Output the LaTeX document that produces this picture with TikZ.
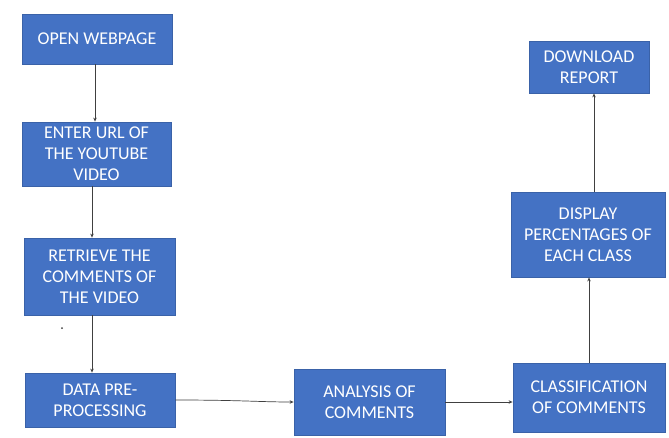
\documentclass[tikz,border=0pt]{standalone}
\usepackage{fontspec}
\setmainfont{Carlito}
\usetikzlibrary{arrows.meta}
\definecolor{boxblue}{HTML}{4472C4}
\definecolor{boxedge}{HTML}{3A62A8}
\definecolor{linegray}{HTML}{404040}
\begin{document}
\begin{tikzpicture}[x=1pt,y=-1pt,
  stepbox/.style={draw=boxedge,line width=0.8pt,fill=boxblue,text=white,
    align=center,inner sep=1pt,font=\fontsize{18}{21}\selectfont},
  conn/.style={draw=linegray,line width=0.7pt,-{Stealth[length=4pt,width=3.5pt]}}]
\useasboundingbox[fill=white] (0,0) rectangle (669,437);
\node[stepbox,minimum width=150pt,minimum height=50pt] (open) at (97,39) {OPEN WEBPAGE};
\node[stepbox,minimum width=149pt,minimum height=64pt] (enter) at (96.5,154) {ENTER URL OF\\THE YOUTUBE\\VIDEO};
\node[stepbox,minimum width=151pt,minimum height=77pt] (retrieve) at (99.5,276.5) {RETRIEVE THE\\COMMENTS OF\\THE VIDEO};
\node[stepbox,minimum width=150pt,minimum height=54pt] (data) at (100,400) {DATA PRE-\\PROCESSING};
\node[stepbox,minimum width=151pt,minimum height=66pt] (analysis) at (369.5,402) {ANALYSIS OF\\COMMENTS};
\node[stepbox,minimum width=152pt,minimum height=69pt] (classif) at (589,397.5) {CLASSIFICATION\\OF COMMENTS};
\node[stepbox,minimum width=154pt,minimum height=85pt] (display) at (588,234.5) {DISPLAY\\PERCENTAGES OF\\EACH CLASS};
\node[stepbox,minimum width=120pt,minimum height=52pt] (download) at (589,67) {DOWNLOAD\\REPORT};
\coordinate (c1) at (95,0);
\coordinate (c2) at (92,0);
\coordinate (c3) at (594,0);
\draw[conn] (c1 |- open.south) -- (c1 |- enter.north);
\draw[conn] (c2 |- enter.south) -- (c2 |- retrieve.north);
\draw[conn] (c2 |- retrieve.south) -- (c2 |- data.north);
\draw[conn] (data.east) .. controls (240,400) and (260,402) .. (analysis.west);
\draw[conn] (analysis.east) -- (classif.west |- analysis.east);
\draw[conn] (classif.north) -- (classif.north |- display.south);
\draw[conn] (c3 |- display.north) -- (c3 |- download.south);
\fill[linegray] (62,328) circle (1pt);
\end{tikzpicture}
\end{document}
